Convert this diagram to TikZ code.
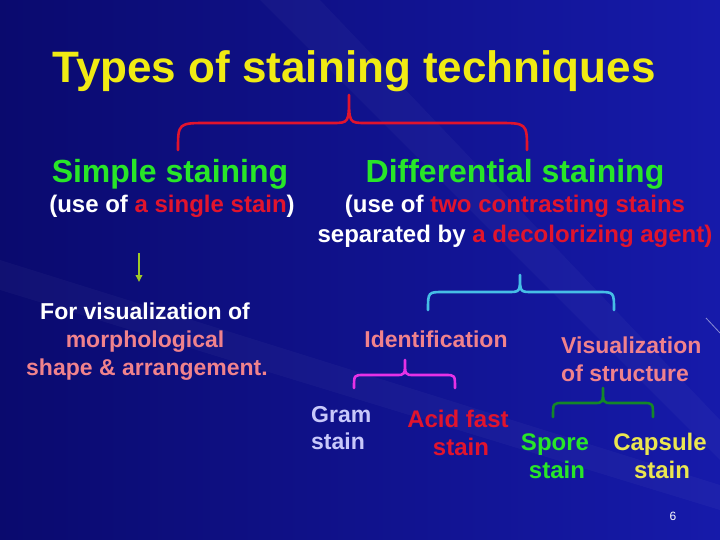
\documentclass[tikz,border=0pt]{standalone}
\usepackage{fontspec}
\setmainfont{Liberation Sans}
\usetikzlibrary{arrows.meta}
\definecolor{bgL}{RGB}{10,10,110}
\definecolor{bgR}{RGB}{22,26,170}
\definecolor{ttl}{RGB}{240,235,20}
\definecolor{grn}{RGB}{40,230,40}
\definecolor{rd}{RGB}{225,20,45}
\definecolor{pnk}{RGB}{240,130,140}
\definecolor{lav}{RGB}{200,200,250}
\definecolor{ylw}{RGB}{235,230,80}
\definecolor{bRed}{RGB}{225,20,45}
\definecolor{bCyan}{RGB}{70,190,230}
\definecolor{bMag}{RGB}{230,50,230}
\definecolor{bGrn}{RGB}{20,135,40}
\definecolor{arr}{RGB}{160,200,40}
\newcommand{\sz}[1]{\fontsize{#1}{#1}\selectfont\bfseries}
% brace: style, L, T, R, ybottom, ytop, ytip, r, r2
\newcommand{\ubrace}[9]{%
  \draw[#1] (#2,#5) .. controls (#2,#6) .. (#2+#8,#6) -- (#3-#9,#6)
    .. controls (#3,#6) .. (#3,#7) .. controls (#3,#6) .. (#3+#9,#6)
    -- (#4-#8,#6) .. controls (#4,#6) .. (#4,#5);}
\begin{document}
\begin{tikzpicture}[x=1pt,y=-1pt,
  txt/.style={inner sep=0pt,anchor=base,align=center},
  brc/.style={line width=2.6pt,line cap=round,line join=round}]
\useasboundingbox (0,0) rectangle (720,540);
\shade[left color=bgL,right color=bgR] (0,0) rectangle (720,540);
% faint streaks
\fill[white,opacity=0.03] (260,0) -- (320,0) -- (720,420) -- (720,460) -- cycle;
\fill[white,opacity=0.03] (0,260) -- (0,290) -- (720,510) -- (720,485) -- cycle;
\draw[white,opacity=0.5,line width=0.8pt] (706,318) -- (720,333);
% title
\node[txt,text=ttl] (title) at (354,83) {\sz{44}Types of staining techniques};
% level 1
\node[txt,text=grn] (simple) at (170,183) {\sz{32}Simple staining};
\node[txt,text=grn] (diff) at (515,183) {\sz{32}Differential staining};
\node[txt,text=white] (simpleuse) at (172,213) {\sz{24}(use of \textcolor{rd}{a single stain})};
\node[txt,text=white] (diffuse1) at (515,213) {\sz{24}(use of \textcolor{rd}{two contrasting stains}};
\node[txt,text=white] (diffuse2) at (515,243) {\sz{24}separated by \textcolor{rd}{a decolorizing agent)}};
% simple branch
\coordinate (aS) at (139,253);
\coordinate (aE) at (139,282);
\draw[arr,line width=1.8pt,-{Triangle[length=7pt,width=6.5pt]}] (aS) -- (aE);
\node[txt,text=white] (vis1) at (145,319) {\sz{23}For visualization of};
\node[txt,text=pnk] (vis2) at (145,347) {\sz{23}morphological};
\node[txt,text=pnk] (vis3) at (147,375) {\sz{23}shape \& arrangement.};
% differential branch
\node[txt,text=pnk] (ident) at (436,347) {\sz{23}Identification};
\node[txt,text=pnk,anchor=base west,align=left] (struct1) at (561,353) {\sz{23}Visualization};
\node[txt,text=pnk,anchor=base west,align=left] (struct2) at (561,381) {\sz{23}of structure};
\node[txt,text=lav,anchor=base west] (gram1) at (311,422) {\sz{23}Gram};
\node[txt,text=lav,anchor=base west] (gram2) at (311,449) {\sz{23}stain};
\node[txt,text=rd] (acid1) at (458,427) {\sz{24}Acid fast};
\node[txt,text=rd] (acid2) at (461,455) {\sz{24}stain};
\node[txt,text=grn] (spore1) at (555,450) {\sz{24}Spore};
\node[txt,text=grn] (spore2) at (557,478) {\sz{24}stain};
\node[txt,text=ylw] (caps1) at (660,450) {\sz{24}Capsule};
\node[txt,text=ylw] (caps2) at (662,478) {\sz{24}stain};
\node[txt,text=white] (pg) at (673,520) {\fontsize{12}{12}\selectfont 6};
% braces
\ubrace{brc,bRed}{178}{349}{527}{150}{123}{95}{30}{17}
\ubrace{brc,bCyan}{428}{520}{614}{310}{292}{275}{16}{12}
\ubrace{brc,bMag}{354}{405}{455}{388}{375}{360}{10}{9}
\ubrace{brc,bGrn}{553}{603}{653}{417}{403}{388}{10}{9}
\end{tikzpicture}
\end{document}
